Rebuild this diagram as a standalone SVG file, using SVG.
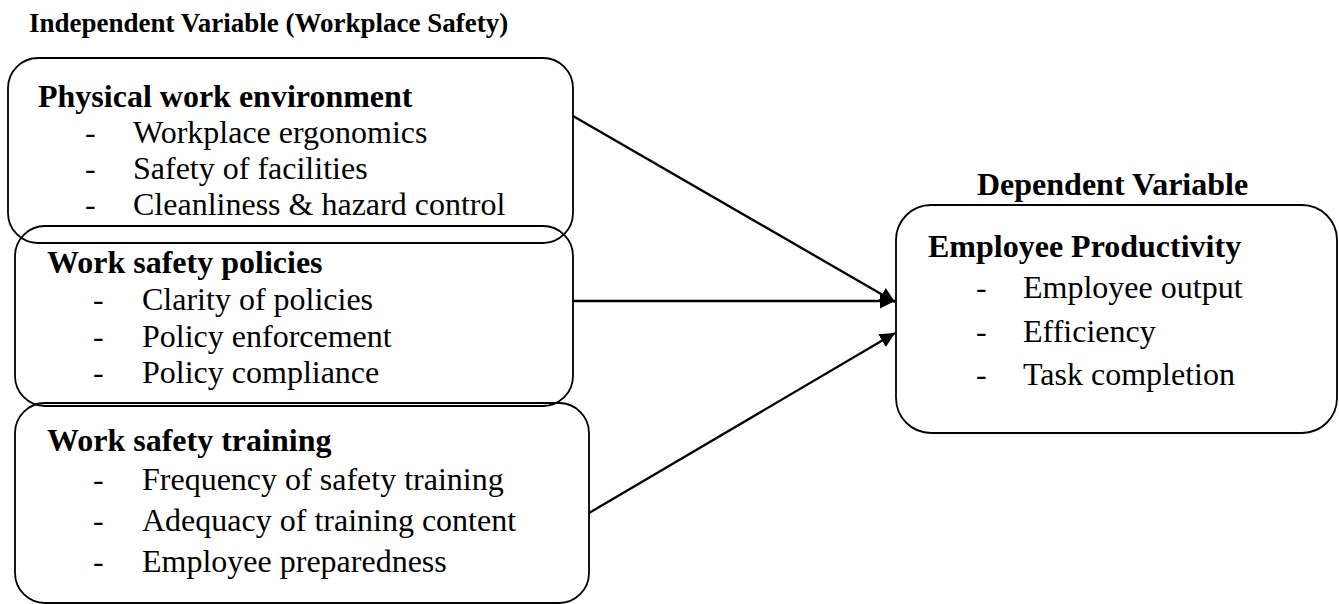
<svg xmlns="http://www.w3.org/2000/svg" width="1339" height="604" viewBox="0 0 1339 604">
  <defs>
    <marker id="arrow" markerUnits="userSpaceOnUse" markerWidth="16" markerHeight="16" refX="15" refY="7.5" orient="auto">
      <path d="M0,0 L15,7.5 L0,15 Z" fill="#000"/>
    </marker>
    <style>
      text { font-family: "Liberation Serif", "Times New Roman", serif; fill: #000; }
      .title { font-size: 27px; font-weight: bold; }
      .head { font-size: 32px; font-weight: bold; }
      .item { font-size: 32px; }
      .box { fill: none; stroke: #000; stroke-width: 1.8; }
      .link { stroke: #000; stroke-width: 2.3; fill: none; marker-end: url(#arrow); }
    </style>
  </defs>

  <rect width="1339" height="604" fill="#fff"/>

  <text class="title" x="29" y="32">Independent Variable (Workplace Safety)</text>
  <text class="head" x="977" y="195">Dependent Variable</text>

  <!-- Independent variable boxes -->
  <g id="physical-environment">
    <rect class="box" x="8" y="58" width="565" height="185" rx="30" ry="30"/>
    <text class="head" x="38" y="107">Physical work environment</text>
    <text class="item" x="85" y="143">-</text>
    <text class="item" x="133" y="143">Workplace ergonomics</text>
    <text class="item" x="85" y="179">-</text>
    <text class="item" x="133" y="179">Safety of facilities</text>
    <text class="item" x="85" y="215">-</text>
    <text class="item" x="133" y="215">Cleanliness &amp; hazard control</text>
  </g>

  <g id="safety-policies">
    <rect class="box" x="15" y="226" width="558" height="180" rx="30" ry="30"/>
    <text class="head" x="47" y="273">Work safety policies</text>
    <text class="item" x="93" y="310">-</text>
    <text class="item" x="142" y="310">Clarity of policies</text>
    <text class="item" x="93" y="347">-</text>
    <text class="item" x="142" y="347">Policy enforcement</text>
    <text class="item" x="93" y="383">-</text>
    <text class="item" x="142" y="383">Policy compliance</text>
  </g>

  <g id="safety-training">
    <rect class="box" x="15" y="403" width="574" height="200" rx="30" ry="30"/>
    <text class="head" x="47" y="451">Work safety training</text>
    <text class="item" x="93" y="490">-</text>
    <text class="item" x="142" y="490">Frequency of safety training</text>
    <text class="item" x="93" y="531">-</text>
    <text class="item" x="142" y="531">Adequacy of training content</text>
    <text class="item" x="93" y="572">-</text>
    <text class="item" x="142" y="572">Employee preparedness</text>
  </g>

  <!-- Dependent variable box -->
  <g id="employee-productivity">
    <rect class="box" x="896" y="205" width="441" height="228" rx="35" ry="35"/>
    <text class="head" x="928" y="257">Employee Productivity</text>
    <text class="item" x="976" y="298">-</text>
    <text class="item" x="1023" y="298">Employee output</text>
    <text class="item" x="976" y="342">-</text>
    <text class="item" x="1023" y="342">Efficiency</text>
    <text class="item" x="976" y="385">-</text>
    <text class="item" x="1023" y="385">Task completion</text>
  </g>

  <!-- Connectors -->
  <g id="connectors">
    <line class="link" x1="573" y1="116" x2="895" y2="302"/>
    <line class="link" x1="573" y1="301" x2="895" y2="301"/>
    <line class="link" x1="589" y1="513" x2="895" y2="333"/>
  </g>
</svg>
